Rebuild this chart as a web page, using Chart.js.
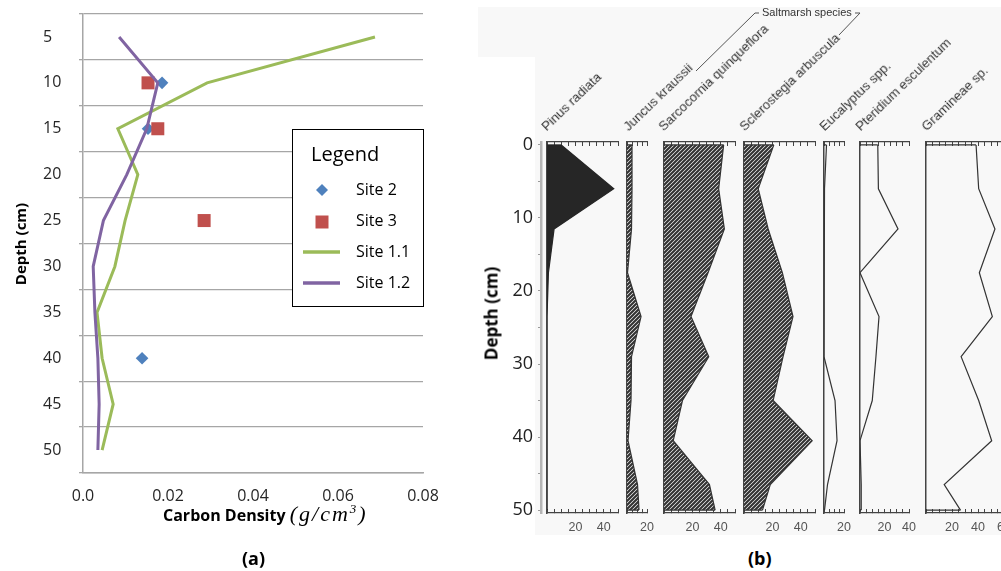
<!DOCTYPE html>
<html>
<head>
<meta charset="utf-8">
<script src="https://cdn.jsdelivr.net/npm/chart.js@4.4.0/dist/chart.umd.min.js"></script>
<style>
body { margin: 0; width: 1001px; height: 571px; overflow: hidden; background: #fff; position: relative; font-family: 'Open Sans', sans-serif; }
canvas { position: absolute; top: 0; }
.tax { position: absolute; font: 13.2px 'Liberation Sans', Arial, sans-serif; color: #333; white-space: nowrap; line-height: 12px; transform-origin: 0 100%; transform: rotate(-44deg); }
.cap { position: absolute; top: 546px; font: bold 18px 'Open Sans', sans-serif; color: #000; }
.ytitle { position: absolute; width: 200px; text-align: center; font-weight: bold; transform: rotate(-90deg); color: #000; }
</style>
</head>
<body>
<div style="position:absolute;left:535px;top:7px;width:466px;height:528px;background:#f8f8f8"></div>
<div style="position:absolute;left:478px;top:7px;width:57px;height:50px;background:#f8f8f8"></div>

<canvas id="chartA" width="460" height="540" style="left:0"></canvas>
<canvas id="depthB" width="80" height="545" style="left:470px"></canvas>

<div class="ytitle" style="left:-80px;top:234px;font-size:15px">Depth (cm)</div>
<div class="ytitle" style="left:391px;top:302px;font-size:17px">Depth (cm)</div>
<div style="position:absolute;left:163px;top:501px;white-space:nowrap">
  <span style="font:bold 16px 'Open Sans';">Carbon Density</span>
  <span style="font:italic 22px 'Liberation Serif', serif;letter-spacing:2px">(g/cm<sup style="font-size:13px">3</sup>)</span>
</div>
<div class="cap" style="left:242px">(a)</div>
<div class="cap" style="left:748px">(b)</div>

<svg style="position:absolute;left:0;top:0" width="1001" height="571">
  <polyline points="696,71 755,13 759,13" fill="none" stroke="#555" stroke-width="1"/>
  <polyline points="855,13 860,13 839,35" fill="none" stroke="#555" stroke-width="1"/>
</svg>
<div style="position:absolute;left:762px;top:6px;font:11px 'Liberation Sans',Arial;color:#333">Saltmarsh species</div>

<script>
// (a) carbon density vs depth
const depthA = [5, 10, 15, 20, 25, 30, 35, 40, 45, 50];
const site11 = [0.0687, 0.0292, 0.0082, 0.0129, 0.0099, 0.0075, 0.0033, 0.0045, 0.0071, 0.0045];
const site12 = [0.0085, 0.0176, 0.0150, 0.0103, 0.0048, 0.0024, 0.0028, 0.0035, 0.0038, 0.0035];
const site2Depth = [10, 15, 40];
const site2Density = [0.0186, 0.0153, 0.0139];
const site3Depth = [10, 15, 25];
const site3Density = [0.0153, 0.0176, 0.0285];
const depthLabelsA = [5, 10, 15, 20, 25, 30, 35, 40, 45, 50];
const densityLabels = ['0.0', '0.02', '0.04', '0.06', '0.08'];

// (b) pollen percentages vs depth
const depthB = [0, 6, 11.5, 17.5, 23.5, 29, 35, 40.5, 46.5, 50];
const taxa = ['Pinus radiata', 'Juncus kraussii', 'Sarcocornia quinqueflora', 'Sclerostegia arbuscula',
              'Eucalyptus spp.', 'Pteridium esculentum', 'Gramineae sp.'];
const pinus = [10, 47, 5, 1, 0, 0, 0, 0, 0, 0];
const juncus = [5, 5, 4.5, 0.5, 14, 4.5, 4, 1, 10.5, 12];
const sarcocornia = [42, 38.5, 42.5, 31, 19, 31.5, 13, 6.5, 32, 36];
const sclerostegia = [21, 10, 17, 27, 34.5, 27.5, 20.5, 48, 18.5, 13];
const eucalyptus = [2.5, 0.5, 0, 0, 0, 0, 11, 13, 3.5, 0.5];
const pteridium = [14.5, 15, 31, 0, 15.5, 13, 10, 0, 1, 1];
const gramineae = [38.5, 40.5, 53, 41, 51, 27, 40.5, 50.5, 14, 26.5];
const pctLabels = [20, 40, 60];
const depthLabelsB = [0, 10, 20, 30, 40, 50];

const font = 'Open Sans';

const boxLegend = {
  id: 'boxLegend',
  afterDraw(chart) {
    const ctx = chart.ctx, area = chart.chartArea;
    const w = 131, h = 177, x0 = area.right - w, y0 = area.top + 115;
    ctx.save();
    ctx.fillStyle = '#fff';
    ctx.fillRect(x0, y0, w, h);
    ctx.strokeStyle = '#000';
    ctx.lineWidth = 1;
    ctx.strokeRect(x0 + 0.5, y0 + 0.5, w, h);
    ctx.textBaseline = 'middle';
    ctx.fillStyle = '#000';
    ctx.font = '20px "' + font + '"';
    ctx.fillText('Legend', x0 + 19, y0 + 26);
    ctx.font = '16px "' + font + '"';
    chart.data.datasets.forEach((ds, i) => {
      const cy = y0 + 61 + i * 31, cx = x0 + 30;
      if (ds.showLine) {
        ctx.strokeStyle = ds.borderColor;
        ctx.lineWidth = 3.5;
        ctx.beginPath();
        ctx.moveTo(cx - 19, cy);
        ctx.lineTo(cx + 18, cy);
        ctx.stroke();
      } else {
        ctx.fillStyle = ds.backgroundColor;
        ctx.beginPath();
        if (ds.pointStyle === 'rectRot') {
          ctx.moveTo(cx - 6, cy); ctx.lineTo(cx, cy - 6); ctx.lineTo(cx + 6, cy); ctx.lineTo(cx, cy + 6);
        } else {
          ctx.rect(cx - 6.5, cy - 5.5, 13, 13);
        }
        ctx.fill();
      }
      ctx.fillStyle = '#000';
      ctx.fillText(ds.label, x0 + 64, cy);
    });
    ctx.restore();
  }
};

new Chart(document.getElementById('chartA'), {
  type: 'scatter',
  data: {
    datasets: [
      { label: 'Site 2', data: site2Depth.map((d, i) => ({ x: site2Density[i], y: d })),
        pointStyle: 'rectRot', pointRadius: 6.3, backgroundColor: '#4f81bd', borderWidth: 0, order: 4 },
      { label: 'Site 3', data: site3Depth.map((d, i) => ({ x: site3Density[i], y: d })),
        pointStyle: 'rect', pointRadius: 9.2, backgroundColor: '#c0504d', borderWidth: 0, order: 3 },
      { label: 'Site 1.1', data: depthA.map((d, i) => ({ x: site11[i], y: d })),
        showLine: true, borderColor: '#9bbb59', borderWidth: 3, pointRadius: 0, order: 2 },
      { label: 'Site 1.2', data: depthA.map((d, i) => ({ x: site12[i], y: d })),
        showLine: true, borderColor: '#8064a2', borderWidth: 3, pointRadius: 0, order: 1 }
    ]
  },
  options: {
    responsive: false,
    animation: false,
    events: [],
    layout: { padding: { top: 14, right: 37, left: 43, bottom: 0 } },
    plugins: { legend: { display: false }, tooltip: { enabled: false } },
    scales: {
      x: {
        type: 'linear', min: 0, max: 0.08,
        afterFit: s => { s.height = 67; },
        ticks: { stepSize: 0.02, padding: 14, font: { family: font, size: 16 }, color: '#262626',
                 callback: (v, i) => densityLabels[i] },
        grid: { display: false, drawTicks: false },
        border: { color: '#a6a6a6', width: 1.5 }
      },
      y: {
        type: 'linear', reverse: true, min: 2.5, max: 52.5,
        afterFit: s => { s.width = 40; },
        ticks: { stepSize: 2.5, autoSkip: false, padding: 0, crossAlign: 'far',
                 font: { family: font, size: 16 }, color: '#262626',
                 callback: v => depthLabelsA.includes(v) ? v : '' },
        grid: {
          color: c => (c.tick && (c.tick.value - 2.5) % 5 === 0) ? '#a6a6a6' : 'rgba(0,0,0,0)',
          lineWidth: 1.3, tickLength: 4
        },
        border: { color: '#a6a6a6', width: 1.5 }
      }
    }
  },
  plugins: [boxLegend]
});

// depth axis of (b)
new Chart(document.getElementById('depthB'), {
  type: 'scatter',
  data: { datasets: [] },
  options: {
    responsive: false,
    animation: false,
    events: [],
    layout: { padding: { top: 142, bottom: 32, left: 0, right: 0 } },
    plugins: { legend: { display: false }, tooltip: { enabled: false } },
    scales: {
      x: { display: false },
      y: {
        type: 'linear', reverse: true, min: -0.4, max: 50.4,
        afterFit: s => { s.width = 71; },
        ticks: { stepSize: 5, includeBounds: false, autoSkip: false, padding: 5,
                 font: { family: font, size: 18 }, color: '#222',
                 callback: v => depthLabelsB.includes(v) ? v : '' },
        grid: { drawOnChartArea: false, tickLength: 3, color: '#9a9a9a' },
        border: { color: '#b5b5b5', width: 2.5 }
      }
    }
  }
});

// closes the outline along the top and bottom sample like the original diagram
const closeEnds = {
  id: 'closeEnds',
  afterDatasetsDraw(chart) {
    const ds = chart.data.datasets[0];
    const pts = ds.data, x = chart.scales.x, y = chart.scales.y, ctx = chart.ctx;
    const a = pts[0], b = pts[pts.length - 1];
    ctx.save();
    ctx.strokeStyle = ds.borderColor;
    ctx.lineWidth = ds.borderWidth;
    ctx.beginPath();
    ctx.moveTo(x.getPixelForValue(0), y.getPixelForValue(a.y));
    ctx.lineTo(x.getPixelForValue(a.x), y.getPixelForValue(a.y));
    ctx.moveTo(x.getPixelForValue(b.x), y.getPixelForValue(b.y));
    ctx.lineTo(x.getPixelForValue(0), y.getPixelForValue(b.y));
    ctx.stroke();
    ctx.restore();
  }
};

const panelsB = [
  { left: 546, max: 50, fill: 'solid', lab: 2 },
  { left: 626, max: 20, fill: 'hatch', lab: 4 },
  { left: 663, max: 50, fill: 'hatch', lab: 2 },
  { left: 743, max: 50, fill: 'hatch', lab: 3 },
  { left: 823, max: 20, fill: null, lab: 3 },
  { left: 859, max: 40, fill: null, lab: 3 },
  { left: 925, max: 60, fill: null, lab: 3 }
];
const valuesB = [pinus, juncus, sarcocornia, sclerostegia, eucalyptus, pteridium, gramineae];
const pxPerPct = 1.45;

function hatchPattern(ctx) {
  const c = document.createElement('canvas');
  c.width = 4; c.height = 4;
  const g = c.getContext('2d');
  g.fillStyle = '#fff';
  g.fillRect(0, 0, 4, 4);
  g.strokeStyle = '#333';
  g.lineWidth = 2.2;
  g.beginPath();
  g.moveTo(-1, 5); g.lineTo(5, -1);
  g.moveTo(-1, 1); g.lineTo(1, -1);
  g.moveTo(3, 5); g.lineTo(5, 3);
  g.stroke();
  return ctx.createPattern(c, 'repeat');
}

const axisGrid = { drawOnChartArea: false, tickLength: -4, color: '#444', lineWidth: 1 };
const axisBorder = { color: '#444', width: 1.2 };

panelsB.forEach((p, k) => {
  const w = p.max * pxPerPct;
  const cv = document.createElement('canvas');
  cv.width = Math.round(w + 20);
  cv.height = 545;
  cv.style.left = (p.left - 10) + 'px';
  document.body.appendChild(cv);
  const ctx = cv.getContext('2d');
  let bg = 'rgba(0,0,0,0)';
  if (p.fill === 'solid') bg = '#262626';
  if (p.fill === 'hatch') bg = hatchPattern(ctx);

  new Chart(cv, {
    type: 'line',
    data: {
      datasets: [{
        data: depthB.map((d, i) => ({ x: valuesB[k][i], y: d })),
        borderColor: p.fill === 'solid' ? '#262626' : '#333',
        borderWidth: 1.2,
        backgroundColor: bg,
        fill: p.fill ? 'origin' : false,
        pointRadius: 0,
        tension: 0
      }]
    },
    options: {
      indexAxis: 'y',
      responsive: false,
      animation: false,
      events: [],
      layout: { padding: { left: 10, right: cv.width - 10 - w, top: 136, bottom: 7 } },
      plugins: { legend: { display: false }, tooltip: { enabled: false } },
      scales: {
        x: {
          type: 'linear', position: 'bottom', min: 0, max: p.max,
          afterFit: s => { s.height = 25; },
          ticks: { stepSize: 5, autoSkip: false, maxRotation: 0, padding: 11,
                   font: { family: 'Liberation Sans', size: 12.5 }, color: '#555',
                   callback: v => pctLabels.includes(v) ? v : '' },
          grid: axisGrid,
          border: axisBorder
        },
        xTop: {
          type: 'linear', axis: 'x', position: 'top', min: 0, max: p.max,
          afterFit: s => { s.height = 6; },
          ticks: { stepSize: 5, display: false },
          grid: axisGrid,
          border: axisBorder
        },
        y: {
          type: 'linear', position: 'left', reverse: true, min: -0.4, max: 50.4,
          afterFit: s => { s.width = 0; },
          ticks: { display: false, includeBounds: false },
          grid: { display: false },
          border: { color: '#444', width: 1.5 }
        }
      }
    },
    plugins: [closeEnds]
  });

  const lab = document.createElement('div');
  lab.className = 'tax';
  lab.textContent = taxa[k];
  lab.style.left = (p.left + p.lab) + 'px';
  lab.style.top = (133 - 12) + 'px';
  document.body.appendChild(lab);
});
</script>
</body>
</html>
